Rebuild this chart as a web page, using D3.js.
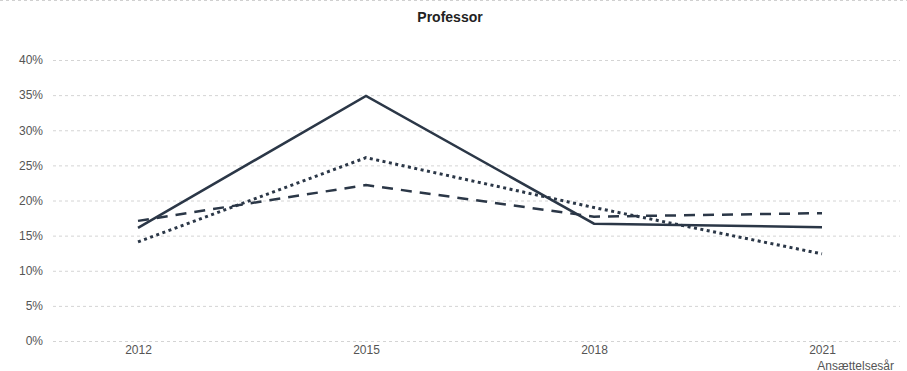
<!DOCTYPE html>
<html>
<head>
<meta charset="utf-8">
<script src="https://cdn.jsdelivr.net/npm/d3@7"></script>
<style>
  html, body { margin: 0; padding: 0; background: #fff; }
  svg { display: block; font-family: "Liberation Sans", Arial, sans-serif; }
</style>
</head>
<body>
<svg id="chart" width="907" height="371"></svg>
<script>
// Hiring years and share of new professors per series
const years = [2012, 2015, 2018, 2021];
const seriesSolid = [16.1, 34.9, 16.7, 16.2];
const seriesDashed = [17.1, 22.2, 17.7, 18.2];
const seriesDotted = [14.1, 26.1, 19.0, 12.4];
const yTicks = [0, 5, 10, 15, 20, 25, 30, 35, 40];

const svg = d3.select("#chart");
const W = 907, H = 371;
const margin = { left: 53, right: 7, top: 60, bottom: 30 };

const x = d3.scalePoint().domain(years).range([138, 822]);
const y = d3.scaleLinear().domain([0, 40]).range([341, 60]);

// top border
svg.append("line")
  .attr("x1", 0).attr("x2", W).attr("y1", 0.5).attr("y2", 0.5)
  .attr("stroke", "#d0d0d0").attr("stroke-dasharray", "3,3");

// title
svg.append("text")
  .attr("x", 450).attr("y", 22)
  .attr("text-anchor", "middle")
  .attr("font-size", 14).attr("font-weight", "bold")
  .attr("fill", "#222")
  .text("Professor");

// horizontal grid
const yAxis = d3.axisLeft(y).tickValues(yTicks).tickFormat(d => d + "%")
  .tickSize(-(W - margin.right - margin.left)).tickPadding(10);
const gy = svg.append("g").attr("transform", `translate(${margin.left},0)`).call(yAxis);
gy.select(".domain").remove();
gy.selectAll(".tick line").attr("stroke", "#d4d4d4").attr("stroke-dasharray", "3,3");
gy.selectAll(".tick text").attr("font-size", 12).attr("fill", "#555");

// x axis labels
const xAxis = d3.axisBottom(x).tickSize(0).tickPadding(4);
const gx = svg.append("g").attr("transform", "translate(0,341)").call(xAxis);
gx.select(".domain").remove();
gx.selectAll(".tick text").attr("font-size", 12).attr("fill", "#555");

// x axis title
svg.append("text")
  .attr("x", 894).attr("y", 369.5)
  .attr("text-anchor", "end")
  .attr("font-size", 12).attr("fill", "#555")
  .text("Ansættelsesår");

const line = d3.line().x((d, i) => x(years[i])).y(d => y(d));
const color = "#2b3747";

const series = [
  { values: seriesDashed, dash: "11,8", width: 2.5 },
  { values: seriesDotted, dash: "3,3.5", width: 3 },
  { values: seriesSolid, dash: null, width: 2.5 }
];

series.forEach(s => {
  svg.append("path")
    .datum(s.values)
    .attr("d", line)
    .attr("fill", "none")
    .attr("stroke", color)
    .attr("stroke-width", s.width)
    .attr("stroke-dasharray", s.dash)
    .attr("stroke-linejoin", "miter");
});
</script>
</body>
</html>
